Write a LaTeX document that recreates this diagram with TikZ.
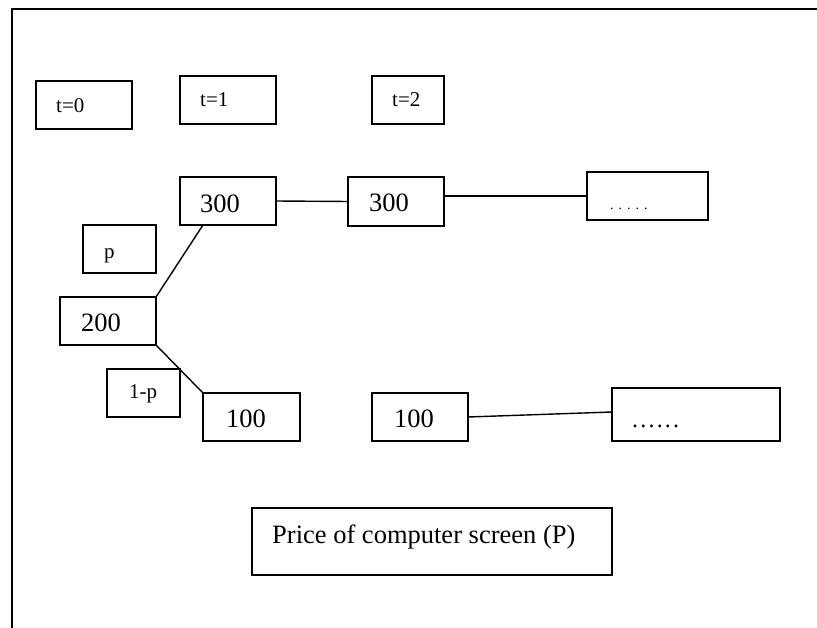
\documentclass[tikz,border=0pt]{standalone}
\usepackage{fontspec}
\setmainfont{Liberation Serif}
\begin{document}
\begin{tikzpicture}[x=1pt,y=-1pt,
  box/.style={draw=black,line width=1.5pt,rectangle,inner sep=0pt,outer sep=0pt,anchor=north west},
  conn/.style={draw=black,line width=1.4pt},
  big/.style={anchor=base west,inner sep=0pt,font=\fontsize{26.5}{30}\selectfont},
  small/.style={anchor=base west,inner sep=0pt,font=\fontsize{21}{25}\selectfont}]
\useasboundingbox (0,0) rectangle (817,628);
% frame
\draw[line width=1.6pt] (12,628) -- (12,9) -- (817,9);
% boxes
\node[box,minimum width=96pt,minimum height=48pt] (t0) at (36,81) {};
\node[box,minimum width=96pt,minimum height=48pt] (t1) at (180,76) {};
\node[box,minimum width=72pt,minimum height=48pt] (t2) at (372,76) {};
\node[box,minimum width=96pt,minimum height=48pt] (a300) at (180,177) {};
\node[box,minimum width=96pt,minimum height=49pt] (b300) at (348,177) {};
\node[box,minimum width=121pt,minimum height=48pt] (d1) at (587,172) {};
\node[box,minimum width=73pt,minimum height=48pt] (p) at (83,225) {};
\node[box,minimum width=96pt,minimum height=48pt] (a200) at (60,297) {};
\node[box,minimum width=73pt,minimum height=48pt] (q) at (107,369) {};
\node[box,minimum width=97pt,minimum height=48pt] (a100) at (203,393) {};
\node[box,minimum width=96pt,minimum height=48pt] (b100) at (372,393) {};
\node[box,minimum width=168pt,minimum height=53pt] (d2) at (612,388) {};
\node[box,minimum width=360pt,minimum height=67pt] (price) at (252,508) {};
% texts
\node[small] (tt0) at (56,113) {t=0};
\node[small] (tt1) at (200,107) {t=1};
\node[small] (tt2) at (392,107) {t=2};
\node[big] (ta300) at (200,213) {300};
\node[big] (tb300) at (369,212) {300};
\node[anchor=base west,inner sep=0pt,font=\fontsize{14}{16}\selectfont] (td1) at (610,210) {.\hspace{5pt}.\hspace{5pt}.\hspace{5pt}.\hspace{5pt}.};
\node[small] (tp) at (104,259) {p};
\node[big] (ta200) at (81,332) {200};
\node[small] (tq) at (129,399) {1-p};
\node[big] (ta100) at (226,428) {100};
\node[big] (tb100) at (394,428) {100};
\node[anchor=base west,inner sep=0pt,font=\fontsize{24}{28}\selectfont] (td2) at (632,427) {.\hspace{2.2pt}.\hspace{2.2pt}.\hspace{2.2pt}.\hspace{2.2pt}.\hspace{2.2pt}.};
\node[big] (tprice) at (272,543) {Price of computer screen (P)};
% connectors
\draw[conn] (a200.north east) -- ([xshift=23pt]a300.south west);
\draw[conn] (a200.south east) -- (a100.north west);
\draw[conn] (a300.east) -- (b300.west);
\draw[conn] (d1.west -| b300.east) -- (d1.west);
\draw[conn] (b100.east) -- ([yshift=2.5pt]d2.west);
\end{tikzpicture}
\end{document}
